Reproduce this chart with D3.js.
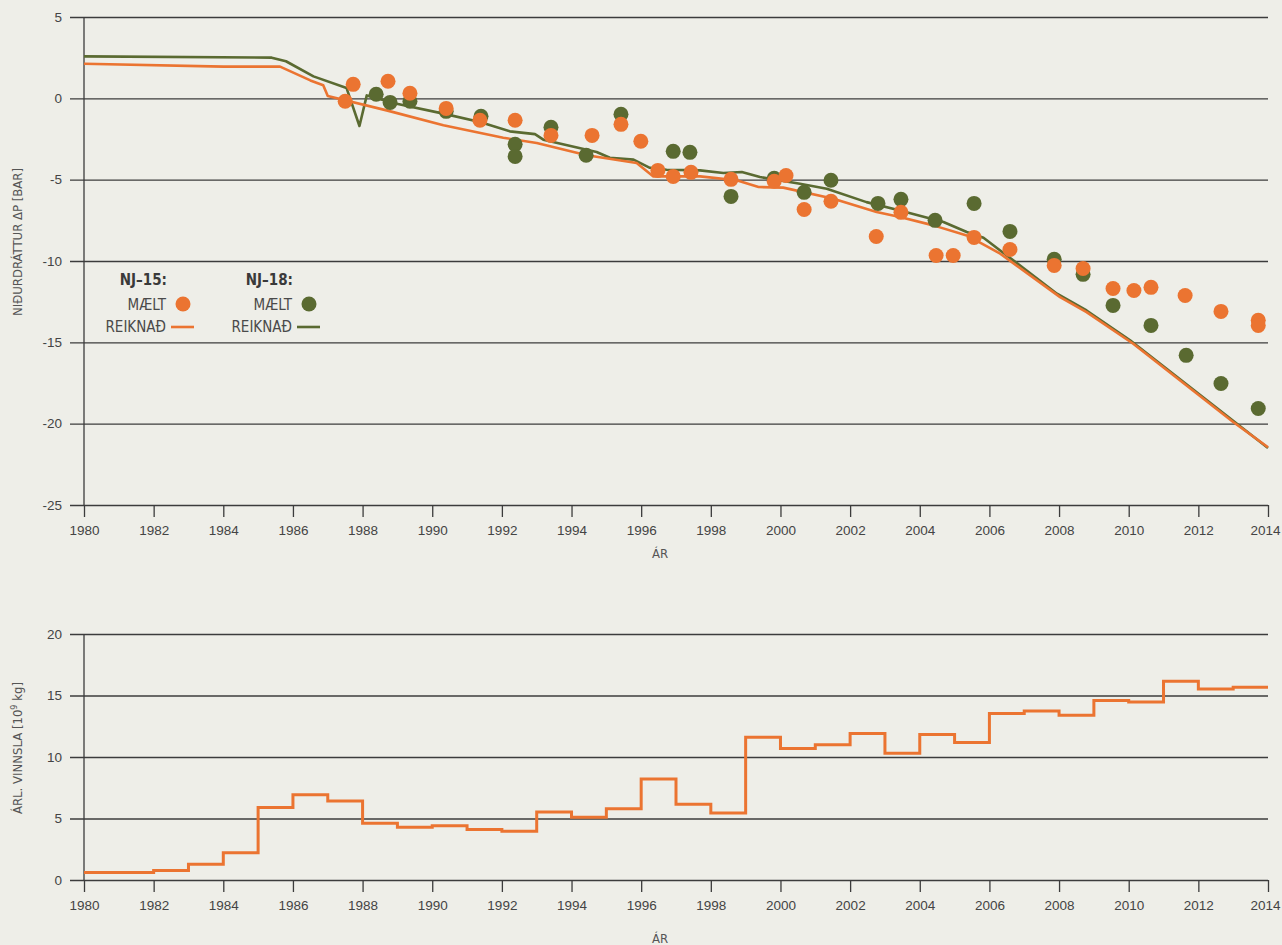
<!DOCTYPE html>
<meta charset="utf-8">
<style>
  body { margin: 0; background: #eeeee8; }
  svg { display: block; font-family: "Liberation Sans Narrow", "DejaVu Sans", sans-serif; font-stretch: condensed; }
  .tick text { fill: #444; font-size: 13.5px; }
  .lbl { fill: #555; font-size: 13px; }
</style>
<body>
<script src="https://d3js.org/d3.v7.min.js"></script>
<div id="chart"></div>
<script>

// NJ-15 computed (REIKNAÐ) drawdown, bar
var nj15CalcYears = [1980, 1984, 1985.63, 1986.5, 1986.87, 1987.0, 1988.69, 1990.32, 1992.04, 1993.0, 1994.44, 1995.87, 1996.35, 1997.69, 1998.74, 1999.37, 2000.08, 2001.52, 2002.76, 2003.43, 2004.39, 2005.35, 2006.31, 2008.03, 2008.79, 2010.13, 2013.0, 2014];
var nj15CalcVals  = [2.13, 1.95, 1.95, 1.1, 0.8, 0.14, -0.74, -1.66, -2.42, -2.75, -3.5, -3.98, -4.8, -4.8, -5.04, -5.45, -5.49, -6.17, -6.99, -7.3, -7.81, -8.43, -9.55, -12.22, -13.14, -15.09, -19.9, -21.45];

// NJ-18 computed (REIKNAÐ) drawdown, bar
var nj18CalcYears = [1980, 1985.39, 1985.8, 1986.59, 1987.54, 1987.91, 1988.12, 1988.98, 1990.32, 1991.37, 1992.23, 1992.95, 1993.19, 1994.72, 1995.1, 1995.78, 1996.25, 1996.73, 1997.69, 1998.36, 1998.89, 1999.41, 2000.56, 2001.33, 2002.47, 2003.43, 2004.68, 2005.35, 2005.83, 2006.31, 2007.94, 2008.79, 2010.04, 2014];
var nj18CalcVals  = [2.58, 2.5, 2.28, 1.35, 0.63, -1.7, 0.18, -0.33, -0.94, -1.46, -2.03, -2.2, -2.54, -3.3, -3.65, -3.77, -4.27, -4.39, -4.43, -4.59, -4.53, -4.84, -5.25, -5.56, -6.38, -6.89, -7.6, -8.22, -8.57, -9.35, -12.01, -13.04, -14.88, -21.5];

// NJ-15 measured (MÆLT)
var nj15MeasYears = [1987.5, 1987.73, 1988.73, 1989.36, 1990.4, 1991.37, 1992.38, 1993.41, 1994.59, 1995.42, 1995.99, 1996.48, 1996.92, 1997.43, 1998.58, 1999.82, 2000.16, 2000.68, 2001.45, 2002.75, 2003.46, 2004.47, 2004.96, 2005.56, 2006.59, 2007.86, 2008.69, 2009.55, 2010.15, 2010.64, 2011.62, 2012.65, 2013.72, 2013.72];
var nj15MeasVals  = [-0.18, 0.86, 1.05, 0.31, -0.62, -1.35, -1.35, -2.28, -2.28, -1.6, -2.64, -4.43, -4.8, -4.55, -4.98, -5.1, -4.74, -6.83, -6.33, -8.49, -7.01, -9.66, -9.66, -8.55, -9.29, -10.27, -10.46, -11.69, -11.81, -11.62, -12.12, -13.1, -13.65, -13.96];

// NJ-18 measured (MÆLT)
var nj18MeasYears = [1988.39, 1988.79, 1989.36, 1990.4, 1991.4, 1992.38, 1992.38, 1993.41, 1994.42, 1995.42, 1996.92, 1997.4, 1998.58, 1999.82, 2000.68, 2001.45, 2002.8, 2003.46, 2004.44, 2005.56, 2006.59, 2007.86, 2008.69, 2009.55, 2010.64, 2011.65, 2012.65, 2013.72];
var nj18MeasVals  = [0.25, -0.25, -0.18, -0.8, -1.1, -2.83, -3.57, -1.78, -3.5, -0.98, -3.26, -3.32, -6.03, -4.92, -5.78, -5.04, -6.46, -6.21, -7.5, -6.46, -8.18, -9.9, -10.82, -12.73, -13.96, -15.8, -17.53, -19.07];

// yearly production, 10^9 kg
var prodYears = [1980, 1981, 1982, 1983, 1984, 1985, 1986, 1987, 1988, 1989, 1990, 1991, 1992, 1993, 1994, 1995, 1996, 1997, 1998, 1999, 2000, 2001, 2002, 2003, 2004, 2005, 2006, 2007, 2008, 2009, 2010, 2011, 2012, 2013];
var prodVals  = [0.6, 0.6, 0.77, 1.28, 2.21, 5.9, 6.94, 6.42, 4.61, 4.29, 4.42, 4.1, 3.96, 5.52, 5.11, 5.79, 8.22, 6.15, 5.45, 11.6, 10.7, 11.0, 11.92, 10.3, 11.82, 11.17, 13.53, 13.75, 13.4, 14.6, 14.47, 16.15, 15.52, 15.68];

var yearTicks = d3.range(1980, 2015, 2);
var topTicks = [5, 0, -5, -10, -15, -20, -25];
var botTicks = [0, 5, 10, 15, 20];

var orange = "#eb7431", green = "#5a6a31";

function zip(xs, ys) { return xs.map(function(d, i) { return {x: d, y: ys[i]}; }); }

// plain hyphen for negatives, as in the original
var fmt = function(d) { return String(d); };

var svg = d3.select("#chart").append("svg")
    .attr("width", 1282)
    .attr("height", 945);

var x = d3.scaleLinear().domain([1980, 2014]).range([84, 1268]);
var yTop = d3.scaleLinear().domain([-25, 5]).range([505, 17]);
var yBot = d3.scaleLinear().domain([0, 20]).range([880, 634]);

function drawFrame(y, ticks, bottom, top) {
  // gridlines + y labels
  var ga = svg.append("g")
      .attr("transform", "translate(70,0)")
      .call(d3.axisLeft(y).tickValues(ticks).tickSize(-(1268 - 70)).tickPadding(8).tickFormat(fmt));
  ga.select(".domain").remove();
  ga.selectAll(".tick line").attr("stroke", "#3c3c3c").attr("stroke-width", 1.3);

  // x ticks
  var xa = svg.append("g")
      .attr("transform", "translate(0," + bottom + ")")
      .call(d3.axisBottom(x).tickValues(yearTicks).tickSize(12).tickPadding(8).tickFormat(fmt));
  xa.select(".domain").remove();
  xa.selectAll(".tick line").attr("stroke", "#3c3c3c").attr("stroke-width", 1.3);
  xa.selectAll(".tick text").filter(function(d) { return d === 2014; }).attr("dx", -3);

  // vertical axis
  svg.append("line")
      .attr("x1", 84).attr("x2", 84)
      .attr("y1", top).attr("y2", bottom)
      .attr("stroke", "#3c3c3c").attr("stroke-width", 1.3);
}

drawFrame(yTop, topTicks, 505, 17);
drawFrame(yBot, botTicks, 880, 634);

// axis titles
svg.append("text").attr("class", "lbl").attr("x", 660).attr("y", 558)
    .attr("text-anchor", "middle").text("ÁR");
svg.append("text").attr("class", "lbl").attr("x", 660).attr("y", 943)
    .attr("text-anchor", "middle").text("ÁR");
svg.append("text").attr("class", "lbl")
    .attr("transform", "translate(22,242) rotate(-90)")
    .attr("text-anchor", "middle").text("NIÐURDRÁTTUR ΔP [BAR]");
var yl = svg.append("text").attr("class", "lbl")
    .attr("transform", "translate(22,748) rotate(-90)")
    .attr("text-anchor", "middle");
yl.append("tspan").text("ÁRL. VINNSLA [10");
yl.append("tspan").attr("dy", -5).style("font-size", "9px").text("9");
yl.append("tspan").attr("dy", 5).text(" kg]");

// computed lines
var line = d3.line()
    .x(function(d) { return x(d.x); })
    .y(function(d) { return yTop(d.y); });

svg.append("path")
    .datum(zip(nj18CalcYears, nj18CalcVals))
    .attr("fill", "none").attr("stroke", green).attr("stroke-width", 2.6)
    .attr("stroke-linejoin", "round")
    .attr("d", line);

svg.append("path")
    .datum(zip(nj15CalcYears, nj15CalcVals))
    .attr("fill", "none").attr("stroke", orange).attr("stroke-width", 2.6)
    .attr("stroke-linejoin", "round")
    .attr("d", line);

// measured points
svg.append("g").selectAll("circle")
    .data(zip(nj18MeasYears, nj18MeasVals))
    .join("circle")
    .attr("cx", function(d) { return x(d.x); })
    .attr("cy", function(d) { return yTop(d.y); })
    .attr("r", 7.5)
    .attr("fill", green);

svg.append("g").selectAll("circle")
    .data(zip(nj15MeasYears, nj15MeasVals))
    .join("circle")
    .attr("cx", function(d) { return x(d.x); })
    .attr("cy", function(d) { return yTop(d.y); })
    .attr("r", 7.5)
    .attr("fill", orange);

// legend
var legend = [
  {name: "NJ\u201315:", color: orange, x: 166},
  {name: "NJ\u201318:", color: green, x: 292}
];
legend.forEach(function(l) {
  var g = svg.append("g");
  g.append("text").attr("x", l.x + 1).attr("y", 285).attr("text-anchor", "end")
      .style("font-size", "15px").style("font-weight", "bold").attr("fill", "#3a3a3a").text(l.name);
  g.append("text").attr("x", l.x).attr("y", 310).attr("text-anchor", "end")
      .style("font-size", "15px").attr("fill", "#4a4a4a").text("MÆLT");
  g.append("circle").attr("cx", l.x + 17).attr("cy", 304).attr("r", 7.5).attr("fill", l.color);
  g.append("text").attr("x", l.x).attr("y", 332).attr("text-anchor", "end")
      .style("font-size", "15px").attr("fill", "#4a4a4a").text("REIKNAÐ");
  g.append("line").attr("x1", l.x + 5).attr("x2", l.x + 28).attr("y1", 327).attr("y2", 327)
      .attr("stroke", l.color).attr("stroke-width", 2.6);
});

// production step line (last year held to 2014)
var prod = zip(prodYears, prodVals);
prod.push({x: 2014, y: prodVals[prodVals.length - 1]});

svg.append("path")
    .datum(prod)
    .attr("fill", "none").attr("stroke", orange).attr("stroke-width", 3)
    .attr("d", d3.line()
      .curve(d3.curveStepAfter)
      .x(function(d) { return x(d.x); })
      .y(function(d) { return yBot(d.y); }));

</script>
</body>
